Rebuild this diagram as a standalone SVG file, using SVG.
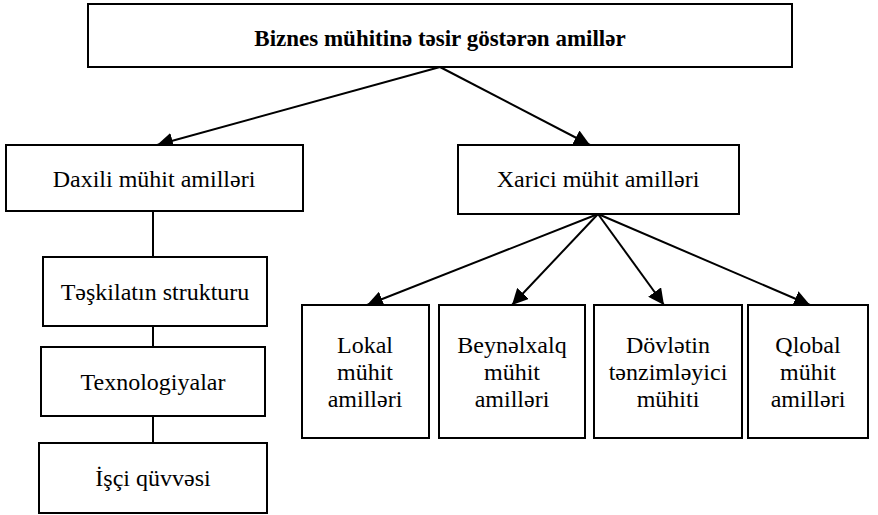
<svg xmlns="http://www.w3.org/2000/svg" width="878" height="515" viewBox="0 0 878 515" font-family="Times New Roman, Liberation Serif, serif">
<defs>
<marker id="ah" viewBox="0 0 10 10" refX="10" refY="5" markerWidth="8" markerHeight="8" markerUnits="strokeWidth" orient="auto">
<path d="M0,0 L10,5 L0,10 z" fill="#000"/>
</marker>
</defs>
<g id="connectors" stroke="#000" stroke-width="2" fill="none">
<line x1="440" y1="67" x2="157" y2="145" marker-end="url(#ah)"/>
<line x1="440" y1="67" x2="590" y2="145" marker-end="url(#ah)"/>
<line x1="153" y1="211" x2="153" y2="257"/>
<line x1="153" y1="326" x2="153" y2="347"/>
<line x1="153" y1="416" x2="153" y2="443"/>
<line x1="598" y1="214" x2="367" y2="305" marker-end="url(#ah)"/>
<line x1="598" y1="214" x2="512" y2="305" marker-end="url(#ah)"/>
<line x1="598" y1="214" x2="664" y2="305" marker-end="url(#ah)"/>
<line x1="598" y1="214" x2="810" y2="305" marker-end="url(#ah)"/>
</g>
<g id="root">
<rect x="88" y="4" width="704" height="63" fill="#fff" stroke="#000" stroke-width="2"/>
<text x="440" y="46" style="font-family:serif" font-size="23" font-weight="bold" text-anchor="middle">Biznes mühitinə təsir göstərən amillər</text>
</g>
<g id="daxili">
<rect x="6" y="145" width="297" height="66" fill="#fff" stroke="#000" stroke-width="2"/>
<text x="154" y="187" style="font-family:serif" font-size="24" text-anchor="middle">Daxili mühit amilləri</text>
</g>
<g id="xarici">
<rect x="458" y="145" width="281" height="69" fill="#fff" stroke="#000" stroke-width="2"/>
<text x="598" y="187" style="font-family:serif" font-size="24" text-anchor="middle">Xarici mühit amilləri</text>
</g>
<g id="teskilat">
<rect x="43" y="257" width="224" height="69" fill="#fff" stroke="#000" stroke-width="2"/>
<text x="155" y="300" style="font-family:serif" font-size="24" text-anchor="middle">Təşkilatın strukturu</text>
</g>
<g id="texnologiya">
<rect x="41" y="347" width="224" height="69" fill="#fff" stroke="#000" stroke-width="2"/>
<text x="153" y="390" style="font-family:serif" font-size="24" text-anchor="middle">Texnologiyalar</text>
</g>
<g id="isci">
<rect x="39" y="443" width="228" height="70" fill="#fff" stroke="#000" stroke-width="2"/>
<text x="153" y="486" style="font-family:serif" font-size="24" text-anchor="middle">İşçi qüvvəsi</text>
</g>
<g id="lokal">
<rect x="302" y="305" width="127" height="133" fill="#fff" stroke="#000" stroke-width="2"/>
<text x="365" y="353" style="font-family:serif" font-size="24" text-anchor="middle">Lokal</text>
<text x="365" y="380" style="font-family:serif" font-size="24" text-anchor="middle">mühit</text>
<text x="365" y="407" style="font-family:serif" font-size="24" text-anchor="middle">amilləri</text>
</g>
<g id="beynelxalq">
<rect x="439" y="305" width="146" height="133" fill="#fff" stroke="#000" stroke-width="2"/>
<text x="512" y="353" style="font-family:serif" font-size="24" text-anchor="middle">Beynəlxalq</text>
<text x="512" y="380" style="font-family:serif" font-size="24" text-anchor="middle">mühit</text>
<text x="512" y="407" style="font-family:serif" font-size="24" text-anchor="middle">amilləri</text>
</g>
<g id="dovlet">
<rect x="594" y="305" width="148" height="133" fill="#fff" stroke="#000" stroke-width="2"/>
<text x="668" y="353" style="font-family:serif" font-size="24" text-anchor="middle">Dövlətin</text>
<text x="668" y="380" style="font-family:serif" font-size="24" text-anchor="middle">tənzimləyici</text>
<text x="668" y="407" style="font-family:serif" font-size="24" text-anchor="middle">mühiti</text>
</g>
<g id="qlobal">
<rect x="748" y="305" width="120" height="133" fill="#fff" stroke="#000" stroke-width="2"/>
<text x="808" y="353" style="font-family:serif" font-size="24" text-anchor="middle">Qlobal</text>
<text x="808" y="380" style="font-family:serif" font-size="24" text-anchor="middle">mühit</text>
<text x="808" y="407" style="font-family:serif" font-size="24" text-anchor="middle">amilləri</text>
</g>
</svg>
